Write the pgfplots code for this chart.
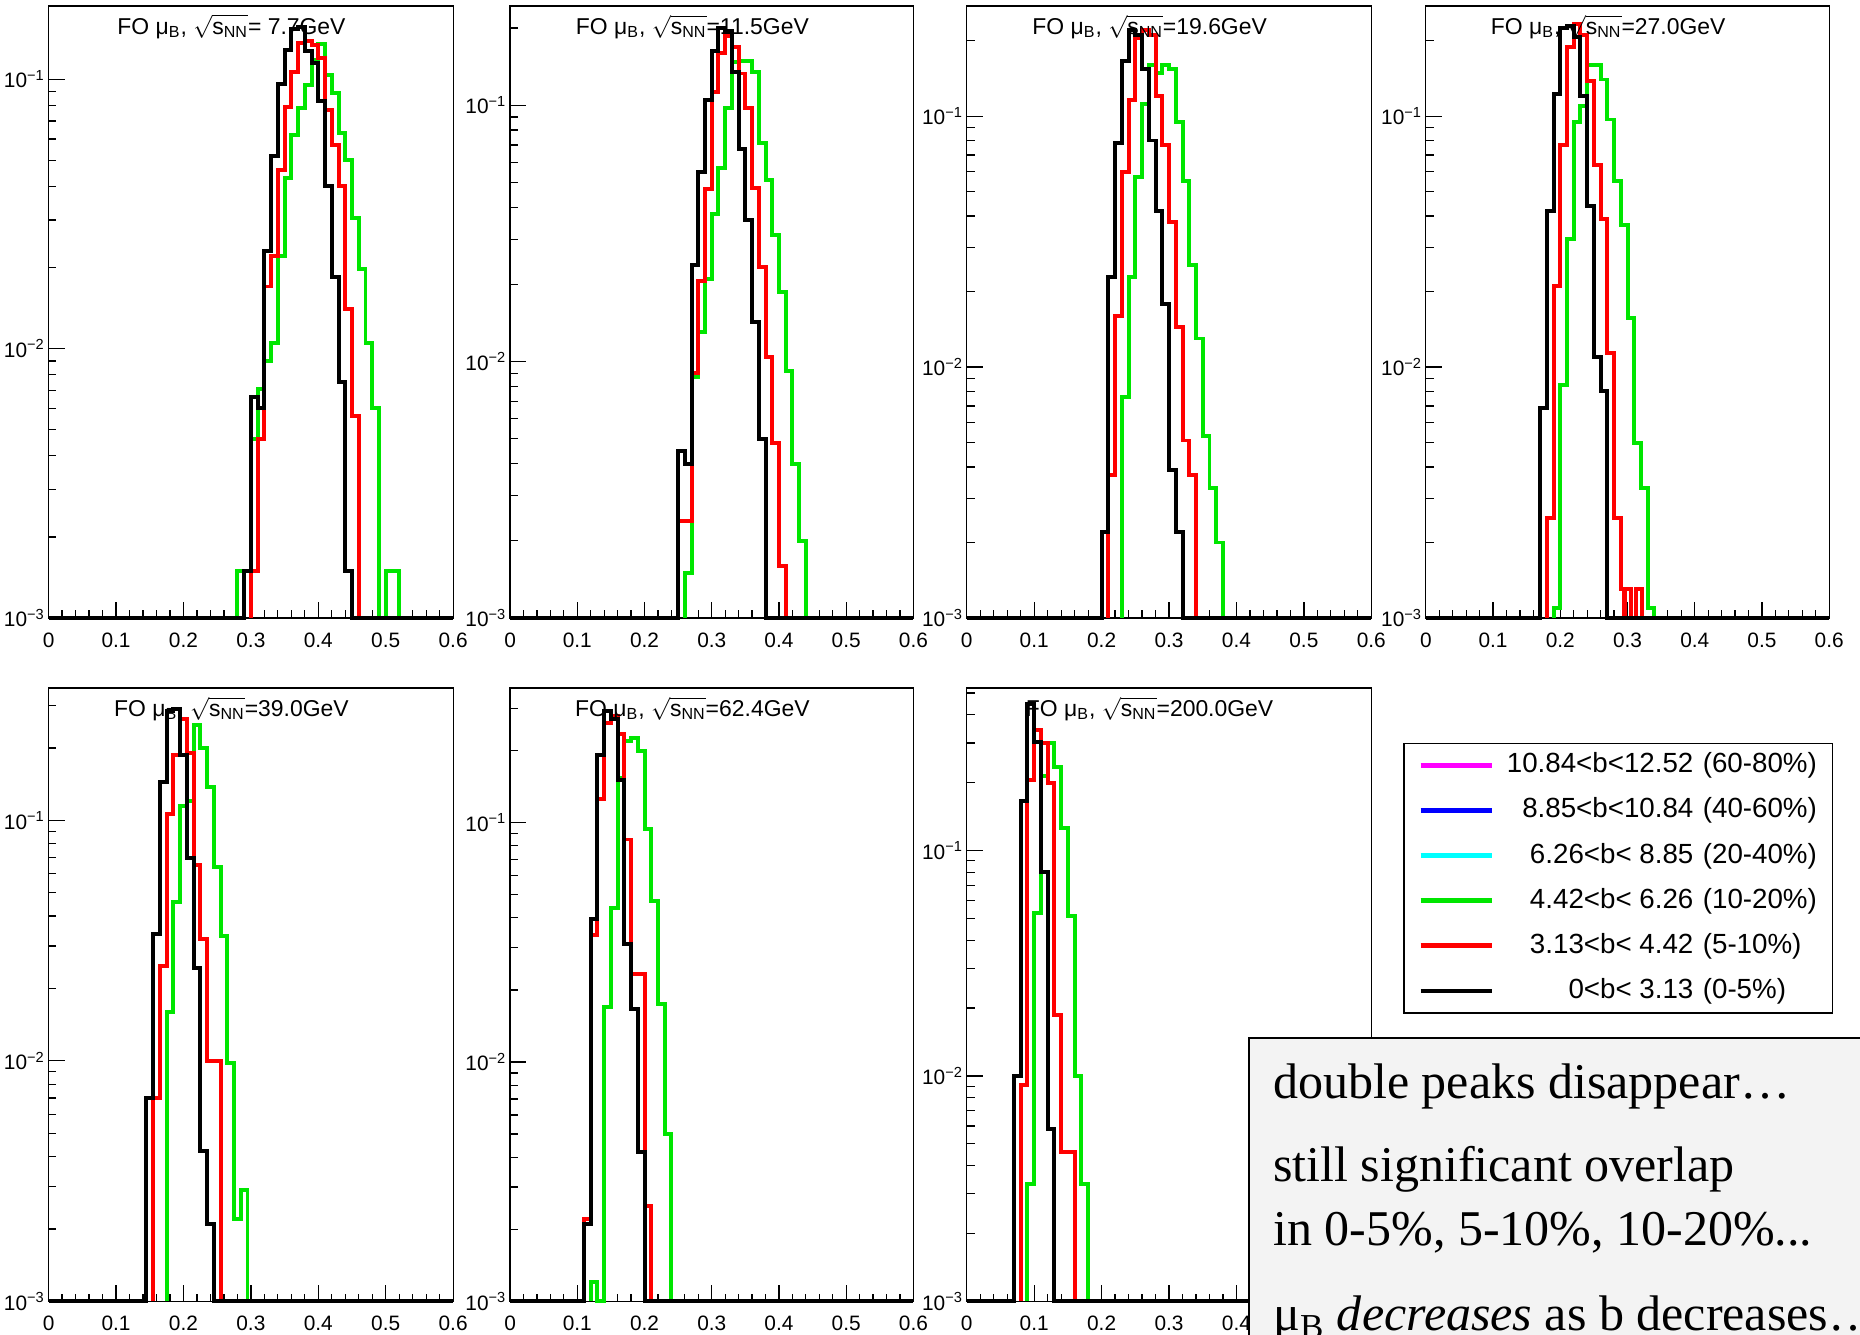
\documentclass[border=0pt]{standalone}
\usepackage{fontspec}
\setmainfont{Liberation Sans}
\newfontfamily\timesfont{Liberation Serif}
\usepackage{amsmath}
\usepackage{pgfplots}
\pgfplotsset{compat=1.18}

\definecolor{hgreen}{RGB}{0,230,0}
\definecolor{hred}{RGB}{255,0,0}
\definecolor{hmag}{RGB}{255,0,255}
\definecolor{hblue}{RGB}{0,0,255}
\definecolor{hcyan}{RGB}{0,255,255}
\definecolor{boxgray}{RGB}{243,243,243}

\pgfplotsset{
 /pgfplots/myhist/.style={
   scale only axis, width=68.2mm, height=103.2mm,
   xmin=0, xmax=0.6, ymin=0.001,
   xtick={0,0.1,0.2,0.3,0.4,0.5,0.6},
   xticklabels={0,0.1,0.2,0.3,0.4,0.5,0.6},
   minor xtick={0.02,0.04,0.06,0.08,0.12,0.14,0.16,0.18,0.22,0.24,0.26,0.28,0.32,0.34,0.36,0.38,0.42,0.44,0.46,0.48,0.52,0.54,0.56,0.58},
   ytick={0.001,0.01,0.1},
   yticklabels={10\textsuperscript{−3},10\textsuperscript{−2},10\textsuperscript{−1}},
   minor ytick={0.002,0.003,0.004,0.005,0.006,0.007,0.008,0.009,0.02,0.03,0.04,0.05,0.06,0.07,0.08,0.09,0.2,0.3,0.4,0.5},
   tick pos=left, tick align=inside,
   major tick length=2.7mm, minor tick length=1.3mm,
   axis line style={line width=0.6pt},
   every tick/.append style={line width=0.6pt, black},
   tick label style={font=\fontsize{10}{11}\selectfont},
   xticklabel style={yshift=-1.2mm},
   yticklabel style={xshift=0.6mm},
   clip=false,
   every axis plot/.append style={const plot mark left, line width=1.9pt, mark=none},
 },
}
\newcommand{\ttl}[1]{\node[anchor=base, font=\fontsize{11}{12}\selectfont, inner sep=0pt] at (axis description cs:0.452,0.954) {FO μ\textsubscript{B}, $\sqrt{\smash[b]{\text{s}_{\text{NN}}}}$#1};}

\begin{document}
\begin{tikzpicture}
\path[use as bounding box] (0,0) rectangle (313.6mm,225mm);

% ---------- 7.7 GeV
\begin{semilogyaxis}[myhist, at={(8.2mm,120.8mm)}, anchor=south west, ymax=0.187]
\addplot[color=hgreen] coordinates {(0.28,0.001) (0.28,0.0015) (0.29,0.0015) (0.30,0.0046) (0.31,0.0071) (0.32,0.0090) (0.33,0.0105) (0.34,0.022) (0.35,0.043) (0.36,0.062) (0.37,0.078) (0.38,0.095) (0.39,0.118) (0.40,0.135) (0.41,0.104) (0.42,0.089) (0.43,0.063) (0.44,0.050) (0.45,0.0305) (0.46,0.0197) (0.47,0.0105) (0.48,0.0060) (0.49,0.001) (0.50,0.0015) (0.51,0.0015) (0.52,0.001)};
\addplot[color=hred] coordinates {(0.30,0.001) (0.30,0.0015) (0.31,0.0046) (0.32,0.017) (0.33,0.022) (0.34,0.046) (0.35,0.079) (0.36,0.106) (0.37,0.136) (0.38,0.138) (0.39,0.134) (0.40,0.12) (0.41,0.077) (0.42,0.057) (0.43,0.040) (0.44,0.014) (0.45,0.0056) (0.46,0.001)};
\addplot[color=black] coordinates {(0,0.001) (0.29,0.0015) (0.30,0.0066) (0.31,0.0060) (0.32,0.023) (0.33,0.052) (0.34,0.096) (0.35,0.128) (0.36,0.153) (0.37,0.156) (0.38,0.127) (0.39,0.115) (0.40,0.083) (0.41,0.040) (0.42,0.0184) (0.43,0.0075) (0.44,0.0015) (0.45,0.001) (0.6,0.001)};
\ttl{= 7.7GeV}
\end{semilogyaxis}

% ---------- 11.5 GeV
\begin{semilogyaxis}[myhist, at={(86mm,120.8mm)}, anchor=south west, width=68mm, ymax=0.244]
\addplot[color=hgreen] coordinates {(0.26,0.001) (0.26,0.0015) (0.27,0.0087) (0.28,0.013) (0.29,0.021) (0.30,0.0376) (0.31,0.057) (0.32,0.0975) (0.33,0.148) (0.34,0.149) (0.35,0.149) (0.36,0.135) (0.37,0.0714) (0.38,0.051) (0.39,0.0313) (0.40,0.0187) (0.41,0.0092) (0.42,0.0040) (0.43,0.0020) (0.44,0.001)};
\addplot[color=hred] coordinates {(0.25,0.001) (0.25,0.0024) (0.26,0.0024) (0.27,0.0090) (0.28,0.0206) (0.29,0.047) (0.30,0.113) (0.31,0.16) (0.32,0.186) (0.33,0.169) (0.34,0.133) (0.35,0.0975) (0.36,0.0477) (0.37,0.0234) (0.38,0.0104) (0.39,0.0048) (0.40,0.0016) (0.41,0.001)};
\addplot[color=black] coordinates {(0,0.001) (0.25,0.0045) (0.26,0.0040) (0.27,0.0238) (0.28,0.055) (0.29,0.105) (0.30,0.163) (0.31,0.20) (0.32,0.195) (0.33,0.135) (0.34,0.0676) (0.35,0.0356) (0.36,0.0143) (0.37,0.0050) (0.38,0.001) (0.6,0.001)};
\ttl{=11.5GeV}
\end{semilogyaxis}

% ---------- 19.6 GeV
\begin{semilogyaxis}[myhist, at={(163mm,120.8mm)}, anchor=south west, ymax=0.275]
\addplot[color=hgreen] coordinates {(0.23,0.001) (0.23,0.0076) (0.24,0.0228) (0.25,0.057) (0.26,0.112) (0.27,0.16) (0.28,0.148) (0.29,0.16) (0.30,0.154) (0.31,0.095) (0.32,0.055) (0.33,0.0255) (0.34,0.013) (0.35,0.0053) (0.36,0.0033) (0.37,0.0020) (0.38,0.001)};
\addplot[color=hred] coordinates {(0.21,0.001) (0.21,0.0037) (0.22,0.016) (0.23,0.060) (0.24,0.116) (0.25,0.204) (0.26,0.22) (0.27,0.21) (0.28,0.12) (0.29,0.077) (0.30,0.038) (0.31,0.0144) (0.32,0.0051) (0.33,0.0037) (0.34,0.001)};
\addplot[color=black] coordinates {(0,0.001) (0.20,0.0022) (0.21,0.0228) (0.22,0.078) (0.23,0.166) (0.24,0.22) (0.25,0.21) (0.26,0.154) (0.27,0.080) (0.28,0.042) (0.29,0.0179) (0.30,0.0039) (0.31,0.0022) (0.32,0.001) (0.6,0.001)};
\ttl{=19.6GeV}
\end{semilogyaxis}

% ---------- 27.0 GeV
\begin{semilogyaxis}[myhist, at={(240.4mm,120.8mm)}, anchor=south west, width=68mm, ymax=0.275]
\addplot[color=hgreen] coordinates {(0.19,0.001) (0.19,0.0011) (0.20,0.0085) (0.21,0.0324) (0.22,0.0946) (0.23,0.11) (0.24,0.16) (0.25,0.16) (0.26,0.14) (0.27,0.097) (0.28,0.055) (0.29,0.037) (0.30,0.0157) (0.31,0.0050) (0.32,0.0033) (0.33,0.0011) (0.34,0.001)};
\addplot[color=hred] coordinates {(0.18,0.001) (0.18,0.0025) (0.19,0.021) (0.20,0.077) (0.21,0.189) (0.22,0.232) (0.23,0.21) (0.24,0.138) (0.25,0.064) (0.26,0.039) (0.27,0.0114) (0.28,0.0025) (0.29,0.0013) (0.295,0.001) (0.297,0.0013) (0.305,0.001) (0.313,0.0013) (0.322,0.001)};
\addplot[color=black] coordinates {(0,0.001) (0.17,0.0069) (0.18,0.042) (0.19,0.123) (0.20,0.224) (0.21,0.228) (0.22,0.207) (0.23,0.12) (0.24,0.044) (0.25,0.011) (0.26,0.008) (0.27,0.001) (0.6,0.001)};
\ttl{=27.0GeV}
\end{semilogyaxis}

% ---------- 39.0 GeV
\begin{semilogyaxis}[myhist, at={(8.2mm,5.6mm)}, anchor=south west, height=103.4mm, ymax=0.355]
\addplot[color=hgreen] coordinates {(0.175,0.001) (0.175,0.016) (0.185,0.0457) (0.195,0.115) (0.205,0.12) (0.215,0.25) (0.225,0.20) (0.235,0.138) (0.245,0.064) (0.255,0.033) (0.265,0.0098) (0.275,0.0022) (0.285,0.0029) (0.295,0.001)};
\addplot[color=hred] coordinates {(0.155,0.001) (0.155,0.0070) (0.165,0.0249) (0.175,0.106) (0.185,0.187) (0.195,0.263) (0.205,0.19) (0.215,0.065) (0.225,0.032) (0.235,0.0100) (0.245,0.0100) (0.255,0.001)};
\addplot[color=black] coordinates {(0,0.001) (0.145,0.0070) (0.155,0.0336) (0.165,0.144) (0.175,0.285) (0.185,0.29) (0.195,0.187) (0.205,0.0695) (0.215,0.0244) (0.225,0.0042) (0.235,0.0021) (0.245,0.001) (0.6,0.001)};
\ttl{=39.0GeV}
\end{semilogyaxis}

% ---------- 62.4 GeV
\begin{semilogyaxis}[myhist, at={(86mm,5.6mm)}, anchor=south west, width=68mm, height=103.4mm, ymax=0.365]
\addplot[color=hgreen] coordinates {(0.12,0.001) (0.12,0.0012) (0.13,0.001) (0.14,0.017) (0.15,0.044) (0.16,0.153) (0.17,0.22) (0.18,0.225) (0.19,0.20) (0.20,0.094) (0.21,0.047) (0.22,0.0175) (0.23,0.0050) (0.24,0.001)};
\addplot[color=hred] coordinates {(0.11,0.001) (0.11,0.0022) (0.12,0.034) (0.13,0.125) (0.14,0.26) (0.15,0.28) (0.16,0.234) (0.17,0.085) (0.18,0.0234) (0.19,0.0234) (0.20,0.0025) (0.21,0.001)};
\addplot[color=black] coordinates {(0,0.001) (0.11,0.0021) (0.12,0.0395) (0.13,0.191) (0.14,0.292) (0.15,0.27) (0.16,0.15) (0.17,0.031) (0.18,0.0166) (0.19,0.0042) (0.20,0.001) (0.6,0.001)};
\ttl{=62.4GeV}
\end{semilogyaxis}

% ---------- 200.0 GeV
\begin{semilogyaxis}[myhist, at={(163mm,5.6mm)}, anchor=south west, height=103.4mm, ymax=0.526,
  xticklabels={0,0.1,0.2,0.3,0.4,{},{}},
  legend style={at={(axis description cs:1.0792,0.911)}, anchor=north west, draw=black, line width=0.6pt, fill=white,
    inner xsep=2.4mm, inner ysep=1.6mm, row sep=3.3mm, column sep=1.2mm,
    font=\fontsize{13.3}{13.3}\selectfont, nodes={inner sep=0pt, text height=3.4mm, text depth=0.9mm}},
  legend cell align=left,
  legend image code/.code={\draw[#1, line width=0.8mm] (0mm,0mm) -- (12mm,0mm);}]
\addlegendimage{hmag}
\addlegendentry{\makebox[32.4mm][r]{10.84<b<12.52}\hspace{1.6mm}\makebox[19.4mm][l]{(60-80\%)}}
\addlegendimage{hblue}
\addlegendentry{\makebox[32.4mm][r]{8.85<b<10.84}\hspace{1.6mm}\makebox[19.4mm][l]{(40-60\%)}}
\addlegendimage{hcyan}
\addlegendentry{\makebox[32.4mm][r]{6.26<b< 8.85}\hspace{1.6mm}\makebox[19.4mm][l]{(20-40\%)}}
\addlegendimage{hgreen}
\addlegendentry{\makebox[32.4mm][r]{4.42<b< 6.26}\hspace{1.6mm}\makebox[19.4mm][l]{(10-20\%)}}
\addlegendimage{hred}
\addlegendentry{\makebox[32.4mm][r]{3.13<b< 4.42}\hspace{1.6mm}\makebox[19.4mm][l]{(5-10\%)}}
\addlegendimage{black}
\addlegendentry{\makebox[32.4mm][r]{0<b< 3.13}\hspace{1.6mm}\makebox[19.4mm][l]{(0-5\%)}}
\addplot[color=hgreen, forget plot] coordinates {(0.09,0.001) (0.09,0.0033) (0.10,0.053) (0.11,0.215) (0.12,0.30) (0.13,0.234) (0.14,0.126) (0.15,0.051) (0.16,0.010) (0.17,0.0033) (0.18,0.001)};
\addplot[color=hred, forget plot] coordinates {(0.08,0.001) (0.08,0.0091) (0.09,0.206) (0.10,0.344) (0.11,0.30) (0.12,0.20) (0.13,0.0186) (0.14,0.0046) (0.15,0.0046) (0.16,0.001)};
\addplot[color=black, forget plot] coordinates {(0,0.001) (0.07,0.0100) (0.08,0.166) (0.09,0.446) (0.10,0.303) (0.11,0.080) (0.12,0.0058) (0.13,0.001) (0.6,0.001)};
\ttl{=200.0GeV}
\end{semilogyaxis}

% ---------- comment box
\draw[line width=0.8pt, fill=boxgray] (210.6mm,-10mm) rectangle (330mm,50mm);
\begin{scope}[every node/.style={anchor=base west, inner sep=0pt, font=\timesfont\fontsize{24}{24}\selectfont}]
\node at (214.6mm,39.8mm) {double peaks disappear…};
\node at (214.6mm,25.8mm) {still significant overlap};
\node at (214.6mm,15.0mm) {in 0-5\%, 5-10\%, 10-20\%...};
\node at (214.6mm,0.6mm) {μ\textsubscript{B} \textit{decreases} as b decreases…};
\end{scope}
\end{tikzpicture}
\end{document}
